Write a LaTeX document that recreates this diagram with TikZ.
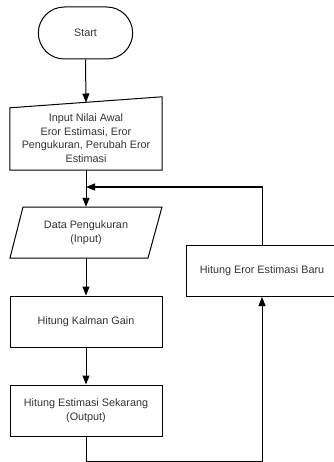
\documentclass[tikz,border=0pt]{standalone}
\usepackage{fontspec}
\setmainfont{Liberation Sans}
\usetikzlibrary{arrows.meta,shapes.misc,calc}
\definecolor{txt}{HTML}{333333}
\begin{document}
\begin{tikzpicture}[x=1pt,y=-1pt,
  every node/.style={font=\fontsize{10.8}{13.5}\selectfont, text=txt, align=center},
  flow/.style={draw=black, line width=1pt},
  arr/.style={flow, -{Triangle[length=9pt,width=7pt]}},
  boxst/.style={draw=black, line width=1pt, minimum width=152pt, minimum height=51pt, inner sep=2pt},
  shapeonly/.style={minimum width=152pt, inner sep=0pt}]
\useasboundingbox (0,0) rectangle (333,462);
% Start terminal
\node[draw=black, rounded rectangle, line width=1pt, minimum width=101pt, minimum height=52pt] (start) at (85.5,33) {Start};
% Manual input
\node[shapeonly, minimum height=73pt] (inp) at (86,133.5) {};
\draw[flow] (inp.south west) -- (inp.south east) -- (inp.north east) -- ($(inp.north west)+(0,11)$) -- cycle;
\node (inptext) at (86,138) {Input Nilai Awal\\Eror Estimasi, Eror\\Pengukuran, Perubah Eror\\Estimasi};
\coordinate (inptop) at (86,102.5);
% Data parallelogram
\node[minimum width=139pt, minimum height=51pt, inner sep=0pt] (data) at (86,232.5) {Data Pengukuran\\(Input)};
\draw[flow] (10,258) -- (148,258) -- (162,207) -- (23,207) -- cycle;
% Process boxes
\node[boxst] (kal) at (86,321.5) {Hitung Kalman Gain};
\node[boxst] (est) at (86,410.5) {Hitung Estimasi Sekarang\\(Output)};
\node[boxst] (eror) at (262,271) {Hitung Eror Estimasi Baru};
% Connectors
\coordinate (bot) at (86,461);
\coordinate (fb) at (86,187);
\draw[arr] (start.south) -- (inptop);
\draw[arr] (inp.south) -- (data.north);
\draw[arr] (data.south) -- (kal.north);
\draw[arr] (kal.south) -- (est.north);
\draw[arr] (est.south) -- (bot) -| (eror.south);
\draw[arr] (eror.north) |- (fb);
\end{tikzpicture}
\end{document}
